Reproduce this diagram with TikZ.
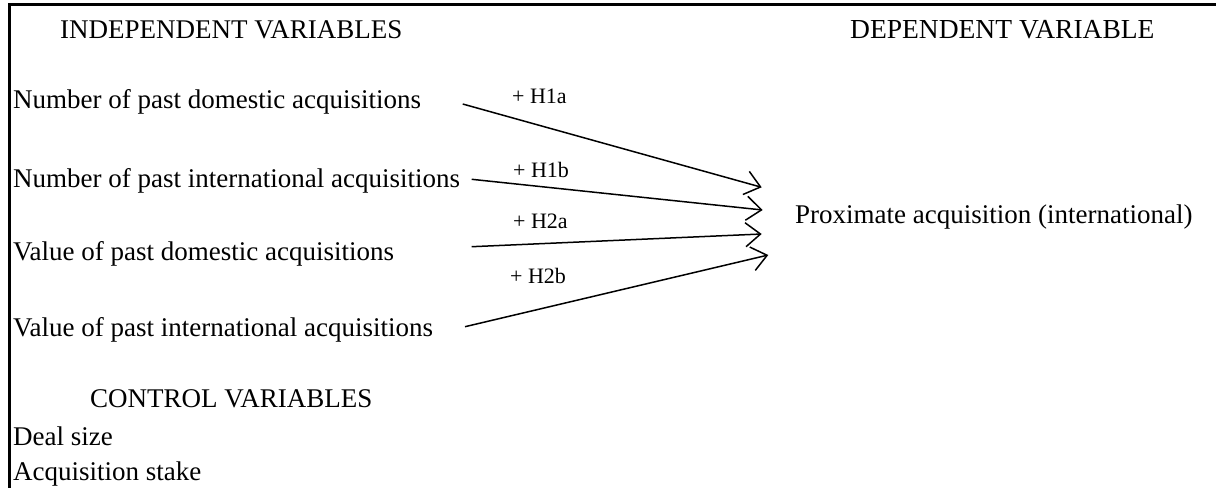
\documentclass[tikz,border=0pt]{standalone}
\usepackage{fontspec}
\setmainfont{Liberation Serif}
\usetikzlibrary{arrows.meta}
\begin{document}
\begin{tikzpicture}[x=1pt,y=-1pt,
  txt/.style={anchor=base west,inner sep=0pt,font=\fontsize{27}{30}\selectfont},
  lbl/.style={anchor=base west,inner sep=0pt,font=\fontsize{22}{26}\selectfont},
  hyp/.style={line width=1.5pt,-{Straight Barb[length=15pt,width=24pt,line width=1.5pt]}},
  frame/.style={line width=2.5pt}]
\useasboundingbox (0,0) rectangle (1216,488);
\coordinate (tl) at (9.5,4.5);
\coordinate (tr) at (1216,4.5);
\coordinate (bl) at (9.5,488);
\draw[frame] (tr) -- (tl) -- (bl);
\node[txt] (hind) at (60,38) {INDEPENDENT VARIABLES};
\node[txt,font=\fontsize{27.5}{30}\selectfont] (hdep) at (850,38) {DEPENDENT VARIABLE};
\node[txt] (v1) at (13,108) {Number of past domestic acquisitions};
\node[txt] (v2) at (13,187) {Number of past international acquisitions};
\node[txt] (v3) at (13,260) {Value of past domestic acquisitions};
\node[txt] (v4) at (13,336) {Value of past international acquisitions};
\node[txt] (dv) at (795,223) {Proximate acquisition (international)};
\node[txt] (hctl) at (90,407) {CONTROL VARIABLES};
\node[txt] (c1) at (13,445) {Deal size};
\node[txt] (c2) at (13,480) {Acquisition stake};
\coordinate (s1) at (462.7,104);
\coordinate (s2) at (471.7,179.3);
\coordinate (s3) at (471.7,246.7);
\coordinate (s4) at (465,326.7);
\coordinate (e1) at (761.7,187.3);
\coordinate (e2) at (762.7,210);
\coordinate (e3) at (761.7,234);
\coordinate (e4) at (768.3,255);
\draw[hyp] (s1) -- (e1);
\draw[hyp] (s2) -- (e2);
\draw[hyp] (s3) -- (e3);
\draw[hyp] (s4) -- (e4);
\node[lbl] (l1) at (512,103) {+ H1a};
\node[lbl] (l2) at (513,177) {+ H1b};
\node[lbl] (l3) at (513,228) {+ H2a};
\node[lbl] (l4) at (510,283) {+ H2b};
\end{tikzpicture}
\end{document}
